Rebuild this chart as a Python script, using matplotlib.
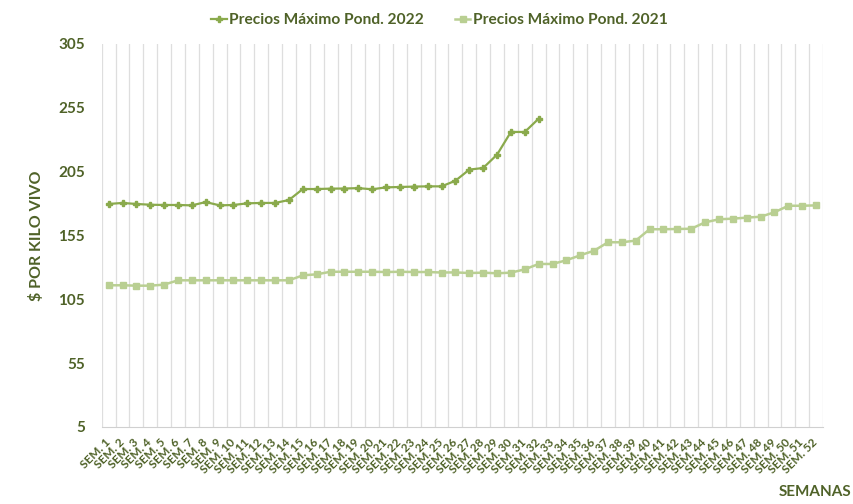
import numpy as np
import matplotlib.pyplot as plt

semanas = [f"SEM. {i}" for i in range(1, 53)]

precios_2022 = [179.7, 180.5, 179.7, 179.1, 178.9, 178.9, 178.6, 181.2, 178.6, 178.9,
                180.2, 180.5, 180.5, 182.8, 191.4, 191.4, 191.7, 191.8, 192.1, 191.2,
                192.7, 193.0, 193.3, 193.5, 193.5, 197.9, 206.6, 207.9, 218.3, 236.1,
                236.1, 246.5]

precios_2021 = [116.0, 116.0, 115.7, 115.7, 116.5, 119.9, 119.9, 119.9, 119.9, 119.9,
                119.9, 119.9, 119.9, 119.9, 123.8, 124.6, 126.6, 126.6, 126.6, 126.6,
                126.4, 126.6, 126.4, 126.4, 126.0, 126.1, 125.6, 125.9, 125.4, 125.9,
                128.5, 132.7, 132.7, 135.6, 139.5, 143.1, 149.7, 149.7, 151.0, 159.9,
                159.9, 160.1, 160.3, 165.3, 167.7, 168.2, 169.0, 169.7, 173.2, 178.3,
                178.3, 178.6]

texto = "#4f6228"
verde_22 = "#8aaa4c"
verde_21 = "#b9cf92"

plt.rcParams['font.family'] = ['Lato', 'DejaVu Sans']

fig = plt.figure(figsize=(8.54, 5.04), dpi=100)
ax = fig.add_axes([101.7 / 854, 1 - 427 / 504, (823 - 101.7) / 854, (427 - 44) / 504])

x22 = np.arange(len(precios_2022))
x21 = np.arange(len(precios_2021))
ax.plot(x22, precios_2022, color=verde_22, lw=1.6, marker="P", ms=4,
        label="Precios Máximo Pond. 2022", zorder=3)
ax.plot(x21, precios_2021, color=verde_21, lw=1.8, marker="s", ms=5,
        label="Precios Máximo Pond. 2021", zorder=3)

ax.set_xlim(-0.5, 51.5)
ax.set_ylim(5, 305)
ax.set_yticks(np.arange(5, 306, 50))
ax.set_xticks(np.arange(52) - 0.3)
ax.set_xticklabels(semanas, rotation=45, ha="right", rotation_mode="anchor",
                   fontsize=8.5, color=texto, fontweight="bold")
ax.tick_params(axis="x", length=0, pad=7)
ax.tick_params(axis="y", length=0, pad=12, labelsize=11, labelcolor=texto)
for t in ax.get_yticklabels():
    t.set_fontweight("bold")

ax.set_xticks(np.arange(-0.5, 52, 1), minor=True)
ax.grid(True, which="minor", axis="x", color="#dedede", lw=0.9)
ax.tick_params(which="minor", length=0)
for s in ["top", "right", "left"]:
    ax.spines[s].set_visible(False)
ax.spines["bottom"].set_color("#d0d0d0")

ax.set_ylabel("$ POR KILO VIVO", fontsize=11.5, fontweight="bold", color=texto, labelpad=10)
fig.text(815 / 854, 1 - 492 / 504, "SEMANAS", fontsize=11, fontweight="bold",
         color=texto, ha="center", va="center")

leg = ax.legend(loc="center", bbox_to_anchor=(0.468, 1 + 24 / 383), ncol=2, frameon=False,
                fontsize=11.2, handlelength=1.0, handletextpad=0.15, columnspacing=2.0)
for t in leg.get_texts():
    t.set_color(texto)
    t.set_fontweight("bold")

fig.savefig("out.png", dpi=100)
